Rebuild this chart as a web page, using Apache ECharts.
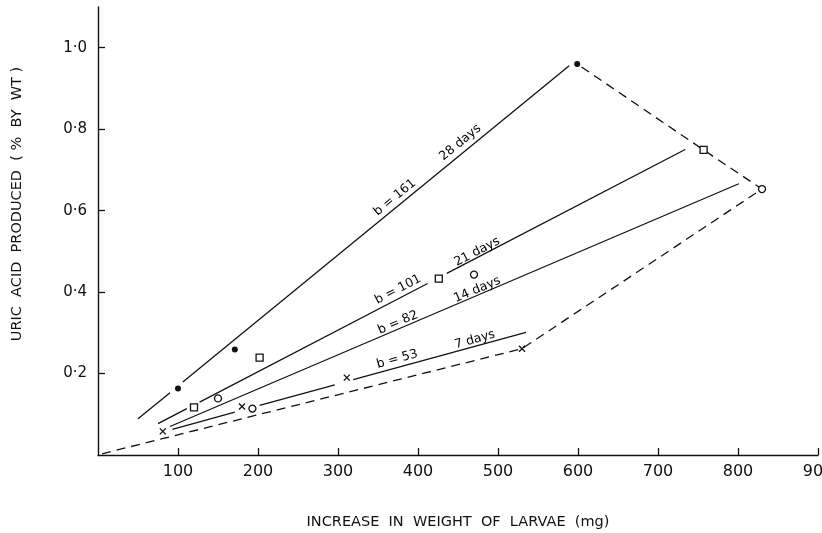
<!DOCTYPE html>
<html>
<head>
<meta charset="utf-8">
<script src="https://cdn.jsdelivr.net/npm/echarts@6/dist/echarts.min.js"></script>
<style>
html,body{margin:0;padding:0;background:#fff;}
#chart{width:822px;height:533px;}
</style>
</head>
<body>
<div id="chart"></div>
<script>
// ---- data ----
const xTicks = [100, 200, 300, 400, 500, 600, 700, 800, 900];
const yTicks = [0.2, 0.4, 0.6, 0.8, 1.0];

// observed points
const dots28 = [[100, 0.163], [171, 0.259], [599, 0.960]];
const squares21 = [[120, 0.117], [202, 0.239], [426, 0.433], [757, 0.749]];
const circles14 = [[150, 0.139], [193, 0.114], [470, 0.443], [830, 0.653]];
const crosses7 = [[81, 0.058], [180, 0.119], [311, 0.190], [530, 0.261]];

// fitted lines (null = break in the drawn line)
const fit28 = [[50, 0.089], [90, 0.153], null, [106, 0.179], [589, 0.956]];
const fit21 = [[75, 0.077], [111, 0.114], null, [127, 0.130], [412, 0.421], null, [436, 0.446], [734, 0.750]];
const fit14 = [[90, 0.070], [801, 0.666]];
const fit7 = [[93, 0.063], [171, 0.105], null, [202, 0.122], [296, 0.172], null, [319, 0.185], [535, 0.301]];

// dashed envelope
const envelope = [[5, 0.003], [530, 0.261], [830, 0.653], [757, 0.749], [599, 0.960]];

// line annotations
const noteTexts = ['b = 161', '28 days', 'b = 101', '21 days', 'b = 82', '14 days', 'b = 53', '7 days'];
const noteX = [371, 453, 375, 474, 375, 474, 374, 471];
const noteY = [0.632, 0.767, 0.406, 0.499, 0.325, 0.406, 0.235, 0.283];
const noteLine = ['fit28', 'fit28', 'fit21', 'fit21', 'fit14', 'fit14', 'fit7', 'fit7'];

const yTitle = 'URIC  ACID  PRODUCED  ( %  BY  WT )';
const xTitle = 'INCREASE  IN  WEIGHT  OF  LARVAE  (mg)';

// ---- chart ----
const INK = '#111111';
const FONT = 'DejaVu Sans';
const lines = { fit28, fit21, fit14, fit7 };
const chart = echarts.init(document.getElementById('chart'), null, { renderer: 'canvas' });

function lineSeries(data) {
  return {
    type: 'line', data: data, symbol: 'none', connectNulls: false,
    lineStyle: { color: INK, width: 1.3 }, z: 2, silent: true
  };
}

function noteData(rotations) {
  return noteTexts.map((t, i) => ({
    value: [noteX[i], noteY[i]],
    label: { formatter: t, rotate: rotations ? rotations[i] : 0 }
  }));
}

const option = {
  backgroundColor: '#ffffff',
  animation: false,
  grid: { left: 98, right: 4, top: 7, bottom: 78, containLabel: false, outerBoundsMode: 'none' },
  xAxis: {
    type: 'value', min: 0, max: 900, interval: 100,
    axisLine: { show: true, lineStyle: { color: INK, width: 1.4 } },
    axisTick: { show: true, inside: true, length: 7, customValues: xTicks, lineStyle: { color: INK, width: 1.3 } },
    axisLabel: { show: true, customValues: xTicks, margin: 9, color: INK, fontFamily: FONT, fontSize: 16, hideOverlap: false },
    splitLine: { show: false },
    name: xTitle, nameLocation: 'middle', nameGap: 67,
    nameTextStyle: { color: INK, fontFamily: FONT, fontSize: 14.5, verticalAlign: 'middle' }
  },
  yAxis: {
    type: 'value', min: 0, max: 1.1, interval: 0.2,
    axisLine: { show: true, lineStyle: { color: INK, width: 1.4 } },
    axisTick: { show: true, inside: true, length: 7, customValues: yTicks, lineStyle: { color: INK, width: 1.3 } },
    axisLabel: {
      show: true, customValues: yTicks, margin: 11, color: INK, fontFamily: FONT, fontSize: 15,
      formatter: v => v.toFixed(1).replace('.', '·')
    },
    splitLine: { show: false }
  },
  graphic: [{
    type: 'text', x: 17, y: 204, rotation: Math.PI / 2,
    style: { text: yTitle, fill: INK, font: '14.5px "DejaVu Sans"', align: 'center', verticalAlign: 'middle' }
  }],
  series: [
    lineSeries(fit28), lineSeries(fit21), lineSeries(fit14), lineSeries(fit7),
    {
      type: 'line', data: envelope, symbol: 'none',
      lineStyle: { color: INK, width: 1.3, type: [9, 6] }, z: 2, silent: true
    },
    {
      type: 'scatter', data: dots28, symbol: 'circle', symbolSize: 6,
      itemStyle: { color: INK, opacity: 1 }, z: 5
    },
    {
      type: 'scatter', data: squares21, symbol: 'rect', symbolSize: 7,
      itemStyle: { color: '#ffffff', borderColor: INK, borderWidth: 1.3, opacity: 1 }, z: 5
    },
    {
      type: 'scatter', data: circles14, symbol: 'circle', symbolSize: 7,
      itemStyle: { color: '#ffffff', borderColor: INK, borderWidth: 1.3, opacity: 1 }, z: 5
    },
    {
      type: 'scatter', data: crosses7, symbol: 'path://M0,0L10,10M10,0L0,10', symbolSize: 6,
      itemStyle: { color: 'none', borderColor: INK, borderWidth: 1.3, opacity: 1 }, z: 5
    },
    {
      id: 'notes', type: 'scatter', data: noteData(null), symbolSize: 0, z: 6,
      itemStyle: { opacity: 1 },
      label: { show: true, position: 'inside', color: '#000000', fontFamily: FONT, fontSize: 12.5, opacity: 1 }
    }
  ]
};
chart.setOption(option);

// rotate each annotation to follow its line, measured through the axes
function slopeAngle(name) {
  const pts = lines[name].filter(p => p);
  const a = chart.convertToPixel({ gridIndex: 0 }, pts[0]);
  const b = chart.convertToPixel({ gridIndex: 0 }, pts[pts.length - 1]);
  return Math.atan2(a[1] - b[1], b[0] - a[0]) * 180 / Math.PI;
}
const rotations = noteLine.map(slopeAngle);
chart.setOption({ series: [{ id: 'notes', data: noteData(rotations) }] });
</script>
</body>
</html>
